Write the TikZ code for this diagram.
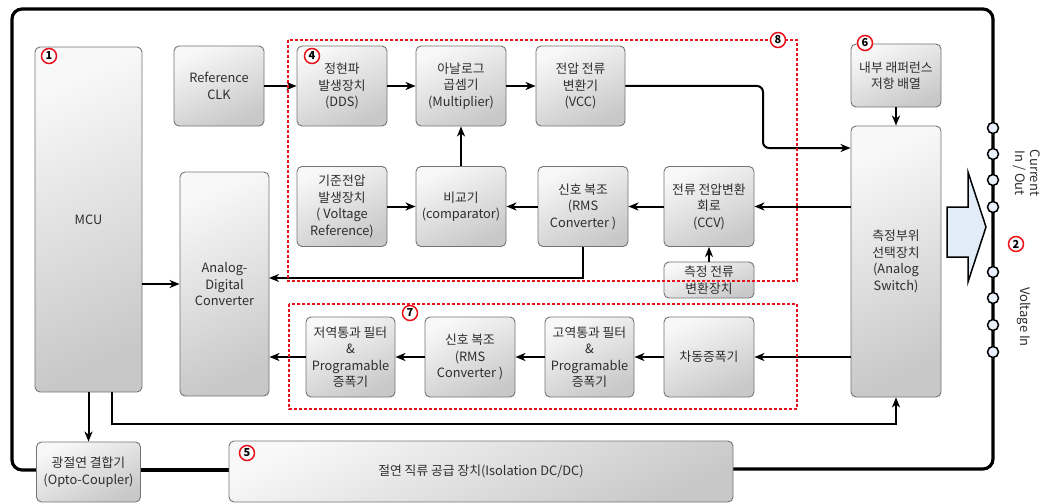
\documentclass[tikz,border=0pt]{standalone}
\usepackage{fontspec}
\setmainfont{Noto Sans CJK KR}
\usetikzlibrary{arrows.meta}
\definecolor{txt}{HTML}{2E2E2E}
\definecolor{bord}{HTML}{747474}
\definecolor{boxtop}{HTML}{F8F8F8}
\definecolor{boxbot}{HTML}{C8C8C8}
\definecolor{dred}{HTML}{E8101A}
\definecolor{termfill}{HTML}{EAF0FA}
\definecolor{bigarrow}{HTML}{E2ECF9}
\begin{document}
\begin{tikzpicture}[x=1pt,y=-1pt,
  blk/.style 2 args={draw=bord, line width=0.9pt, rounded corners=5pt,
    top color=boxtop, bottom color=boxbot, shading angle=25,
    align=center, text=txt, font=\fontsize{12.8}{16.5}\selectfont,
    inner sep=0pt, minimum width=#1, minimum height=#2},
  arr/.style={-{Stealth[length=10pt,width=8pt,inset=3pt]}, line width=2pt},
  dashbox/.style={draw=dred, line width=1.7pt, dash pattern=on 3pt off 2pt},
  frame/.style={line width=3.2pt, rounded corners=10pt},
  term/.style={circle, draw, line width=1.5pt, fill=termfill, minimum size=11pt, inner sep=0pt},
  num/.style={circle, draw=dred, line width=1.5pt, fill=white, inner sep=0pt,
    minimum size=15pt, font=\fontsize{11}{11}\selectfont\bfseries},
  lab/.style={text=txt, font=\fontsize{13}{15}\selectfont, align=center}
]
\useasboundingbox (0,0) rectangle (1047,503);

% outer thick frame
\draw[frame] (36,470) -- (12,470) -- (12,9) -- (993,9) -- (993,469) -- (733,469);
\draw[frame] (140,470) -- (229,470);

% big arrow
\draw[line width=1.5pt, fill=bigarrow, line join=miter]
  (947,207) -- (968,207) -- (968,172) -- (986,227) -- (968,282) -- (968,257) -- (947,257) -- cycle;

% terminals
\foreach \y in {128,154,180,207,272,298,325,352}
  \node[term] (t\y) at (993,\y) {};

\node[lab, rotate=-90] (cur) at (1027,173) {Current\\In / Out};
\node[lab, rotate=-90] (vin) at (1024,317) {Voltage In};

% blocks
\node[blk={107pt}{345pt}] (mcu) at (88.5,219.5) {MCU};
\node[blk={90pt}{80pt}] (refclk) at (219,86) {Reference\\CLK};
\node[blk={89pt}{224pt}] (adc) at (224.5,284) {Analog-\\Digital\\Converter};
\node[blk={90pt}{80pt}] (dds) at (342,86) {정현파\\발생장치\\(DDS)};
\node[blk={90pt}{80pt}] (mult) at (461,86) {아날로그\\곱셈기\\(Multiplier)};
\node[blk={89pt}{80pt}] (vcc) at (580.5,86) {전압 전류\\변환기\\(VCC)};
\node[blk={90pt}{80pt}] (vref) at (342,206.5) {기준전압\\발생장치\\( Voltage\\Reference)};
\node[blk={90pt}{80pt}] (comp) at (461,206.5) {비교기\\(comparator)};
\node[blk={90pt}{80pt}] (rms) at (583,206.5) {신호 복조\\(RMS\\Converter )};
\node[blk={90pt}{80pt}] (ccv) at (709,206.5) {전류 전압변환\\회로\\(CCV)};
\node[blk={90pt}{36pt}] (meas) at (709,280) {측정 전류\\변환장치};
\node[blk={90pt}{271pt}] (sw) at (896,261.5) {측정부위\\선택장치\\(Analog\\Switch)};
\node[blk={90pt}{63pt}] (intref) at (896,75.5) {내부 래퍼런스\\저항 배열};
\node[blk={89pt}{80pt}] (lpf) at (350.5,357) {저역통과 필터\\\&\\Programable\\증폭기};
\node[blk={90pt}{80pt}] (rms2) at (470,357) {신호 복조\\(RMS\\Converter )};
\node[blk={89pt}{80pt}] (hpf) at (589.5,357) {고역통과 필터\\\&\\Programable\\증폭기};
\node[blk={90pt}{80pt}] (diff) at (709,357) {차동증폭기};
\node[blk={104pt}{60pt}] (opto) at (88.5,472) {광절연 결합기\\(Opto-Coupler)};
\node[blk={504pt}{61pt}] (dcdc) at (481,471.5) {절연 직류 공급 장치(Isolation DC/DC)};

% connectors
\coordinate (vk) at (763,148);
\coordinate (adcin) at (269,278);
\coordinate (swb) at (896,424);
\draw[arr] (refclk) -- (dds);
\draw[arr] (dds) -- (mult);
\draw[arr] (mult) -- (vcc);
\draw[arr, rounded corners=6pt] (vcc.east) -| (vk) -- (vk -| sw.west);
\draw[arr] (comp) -- (mult);
\draw[arr] (vref) -- (comp);
\draw[arr] (rms) -- (comp);
\draw[arr] (ccv) -- (rms);
\draw[arr] (sw.west |- ccv) -- (ccv);
\draw[arr] (meas) -- (ccv);
\draw[arr] (rms.south) |- (adcin);
\draw[arr] (mcu.east |- adc) -- (adc.west);
\draw[arr] (sw.west |- diff) -- (diff);
\draw[arr] (diff) -- (hpf);
\draw[arr] (hpf) -- (rms2);
\draw[arr] (rms2) -- (lpf);
\draw[arr] (lpf) -- (adc.east |- lpf);
\draw[arr] (intref) -- (sw);
\draw[arr] (mcu.south) -- (opto.north);
\draw[arr] ([xshift=23.5pt]mcu.south) |- (swb) -- (sw.south);

% dashed groups
\draw[dashbox] (288,40) rectangle (797,281);
\draw[dashbox] (289,304) rectangle (797,409);

% circled numbers
\node[num] (n1) at (49,56) {1};
\node[num] (n4) at (312,56) {4};
\node[num] (n8) at (778,40) {8};
\node[num] (n6) at (865,43) {6};
\node[num] (n2) at (1016,244) {2};
\node[num] (n7) at (410,313) {7};
\node[num] (n5) at (247,453) {5};
\end{tikzpicture}
\end{document}
